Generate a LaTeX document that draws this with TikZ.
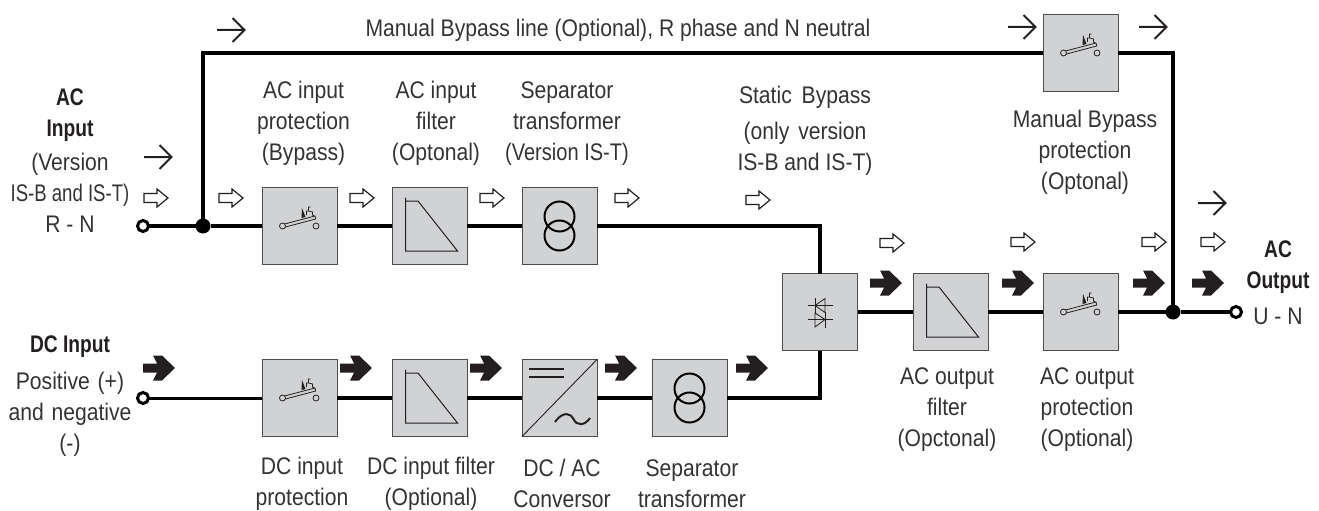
\documentclass[tikz,border=0pt]{standalone}
\usepackage{fontspec}
\setmainfont[FakeStretch=0.88]{Liberation Sans}
\newfontfamily\narrowfont[FakeStretch=0.8]{Liberation Sans}
\definecolor{boxgray}{HTML}{D1D2D4}
\definecolor{ink}{HTML}{231F20}
\definecolor{txt}{HTML}{333333}
\tikzset{
  x=1pt,y=-1pt,
  block/.style={draw=ink!80,line width=1pt,fill=boxgray,minimum width=75pt,minimum height=77pt,inner sep=0pt,outer sep=0pt},
  wire/.style={draw=black,line width=3.8pt},
  thinwire/.style={draw=black,line width=3pt},
  opendot/.style={circle,draw=black,fill=white,line width=3pt,minimum size=11pt,inner sep=0pt,outer sep=0pt},
  soliddot/.style={circle,fill=black,minimum size=15pt,inner sep=0pt,outer sep=0pt},
  label/.style={align=center,font=\fontsize{24}{31}\selectfont,text=txt,inner sep=0pt},
  blabel/.style={label,font=\fontsize{24}{31}\selectfont\narrowfont\bfseries,text=ink},
  pics/thinarr/.style={code={\draw[ink,line width=2pt,line join=miter] (-14,0)--(13,0) (1.5,-12)--(13.5,0)--(1.5,12);}},
  pics/openarr/.style={code={\draw[ink,line width=1.2pt,fill=white,line join=miter] (-12,-4.5)--(1,-4.5)--(1,-9)--(12,0)--(1,9)--(1,4.5)--(-12,4.5)--cycle;}},
  pics/boldarr/.style={code={\fill[ink] (-16,-4.5)--(-2,-4.5)--(-6,-12.5)--(3,-12.5)--(16,0)--(3,12.5)--(-6,12.5)--(-2,4.5)--(-16,4.5)--cycle;}},
  pics/switchsym/.style={code={
    \draw[ink,line width=.8pt,fill=boxgray] (-16.5,-1.6)--(15.5,-10)--(16.2,-7)--(-15.5,1.4)--cycle;
    \draw[ink,line width=.8pt,fill=boxgray] (-17,0) circle (3pt) (16.5,0) circle (3pt);
    \fill[ink] (2,-8)--(2.5,-18)--(6,-9)--cycle;
    \draw[ink,line width=.8pt] (7,-11)--(7,-15)--(9,-15)--(9,-19)--(11,-19) (9,-15)--(13,-14)--(13,-11)--(15,-10);
  }},
  pics/filtersym/.style={code={
    \draw[ink,line width=1pt] (-24,-28.5)--(-24,25)--(28,25)--(-11.5,-25)--(-24,-25);
  }},
  pics/xfmrsym/.style={code={
    \draw[black,line width=2pt] (0,-9.5) circle (15pt) (0,9.5) circle (15pt);
  }},
  pics/scrsym/.style={code={
    \draw[ink,line width=.8pt] (-12,-6.5)--(13,-6.5) (-12,7.5)--(13,7.5);
    \draw[ink,line width=.8pt] (-5,-14.5)--(-5,1) (5,-0.5)--(5,15.5);
    \draw[ink,line width=.8pt] (-5,-6.5)--(5,-13.5)--(5,0.5)--cycle;
    \draw[ink,line width=.8pt] (5,7.5)--(-5,1)--(-5,15)--cycle;
  }},
  pics/convsym/.style={code={
    \draw[ink,line width=.9pt] (-37.5,38.5)--(37.5,-38.5);
    \draw[ink,line width=2pt] (-30.5,-29)--(4,-29) (-30.5,-21)--(4,-21);
    \draw[ink,line width=2pt] (-4.5,24) .. controls (4,12) and (12,16) .. (14,21) .. controls (17,28) and (25,28) .. (30.5,20);
  }},
}
\begin{document}
\begin{tikzpicture}
\useasboundingbox (0,0) rectangle (1319,511);
% blocks
\node[block] (b1) at (299.5,226) {};
\node[block] (b2) at (429.5,226) {};
\node[block] (b3) at (559.5,226) {};
\node[block] (d1) at (299.5,398) {};
\node[block] (d2) at (429.5,398) {};
\node[block] (d3) at (559.5,398) {};
\node[block] (d4) at (689.5,398) {};
\node[block] (scr) at (820,312) {};
\node[block] (o1) at (950.5,312) {};
\node[block] (o2) at (1080.5,312) {};
\node[block] (mb) at (1080.5,53) {};
% terminals and junctions
\node[opendot] (acin) at (143,226) {};
\node[opendot] (dcin) at (143,398) {};
\node[opendot] (acout) at (1236,312) {};
\node[soliddot] (j1) at (203,226) {};
\node[soliddot] (j2) at (1173,312) {};
\coordinate (c1) at (203,53);
\coordinate (c2) at (1173,53);
% wires
\draw[wire] (acin) -- (j1);
\draw[wire] (j1) -- (b1);
\draw[wire] (b1) -- (b2);
\draw[wire] (b2) -- (b3);
\draw[wire] (b3.east) -| (scr.north);
\draw[wire,line join=miter] (j1) -- (c1) -- (mb.west);
\draw[wire,line join=miter] (mb.east) -- (c2) -- (j2);
\draw[thinwire] (dcin) -- (d1);
\draw[wire] (d1) -- (d2);
\draw[wire] (d2) -- (d3);
\draw[wire] (d3) -- (d4);
\draw[wire] (d4.east) -| (scr.south);
\draw[wire] (scr) -- (o1);
\draw[wire] (o1) -- (o2);
\draw[wire] (o2) -- (j2);
\draw[wire] (j2) -- (acout);
% symbols
\pic at (b1) {switchsym};
\pic at (d1) {switchsym};
\pic at (o2) {switchsym};
\pic at (mb) {switchsym};
\pic at (b2) {filtersym};
\pic at (d2) {filtersym};
\pic at (o1) {filtersym};
\pic at (b3) {xfmrsym};
\pic at (d4) {xfmrsym};
\pic at (d3) {convsym};
\pic at (scr) {scrsym};
% thin arrows
\foreach \p in {(231,30),(158,157),(1022,27),(1153,27),(1212,203)} {\pic at \p {thinarr};}
% open arrows
\foreach \p in {(156,198),(231,198),(362,198),(492,198),(627,198),(758,200),(892,243),(1023,242),(1154,242),(1213,242)} {\pic at \p {openarr};}
% bold arrows
\foreach \p in {(159,368),(356,368),(486,368),(621,368),(752,368),(886,283),(1018,283),(1149,283),(1208,283)} {\pic at \p {boldarr};}
% labels
\node[label] (tMB) at (618,30) {Manual Bypass line (Optional), R phase and N neutral};
\node[blabel] (tAC) at (70,115) {AC\\Input};
\node[label] (tACs) at (70,193) {(Version\\\scalebox{.88}[1]{IS-B and IS-T)}\\R - N};
\node[label] (t1) at (303.5,123.5) {AC input\\protection\\(Bypass)};
\node[label] (t2) at (436,123.5) {AC input\\filter\\(Optonal)};
\node[label] (t3) at (567,123.5) {Separator\\transformer\\\scalebox{.95}[1]{(Version IS-T)}};
\node[label] (t4) at (805,131) {Static\hspace{4pt} Bypass\\[5pt](only\hspace{3pt} version\\IS-B and IS-T)};
\node[label] (t5) at (1085,152.5) {Manual Bypass\\protection\\(Optonal)};
\node[blabel] (tO) at (1278,267) {AC\\Output};
\node[label] (tO2) at (1278,316) {U - N};
\node[blabel] (tDC) at (70,347) {DC Input};
\node[label] (tDCs) at (70,414.5) {Positive\hspace{2pt} (+)\\and\hspace{2pt} negative\\(-)};
\node[label] (t6) at (302,483.5) {DC input\\protection};
\node[label] (t7) at (431,483.5) {DC input filter\\(Optional)};
\node[label] (t8) at (562,483.5) {DC / AC\\Conversor};
\node[label] (t9) at (692,483.5) {Separator\\transformer};
\node[label] (t10) at (947,410) {AC output\\filter\\(Opctonal)};
\node[label] (t11) at (1087,410) {AC output\\protection\\(Optional)};
\end{tikzpicture}
\end{document}
